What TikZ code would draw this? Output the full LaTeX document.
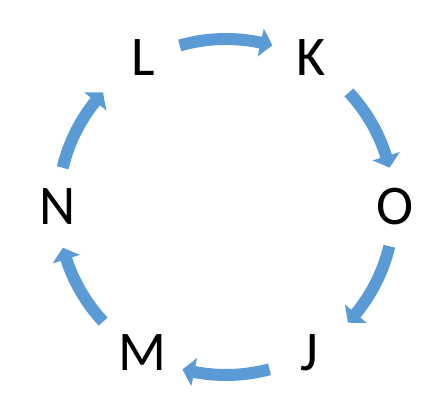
\documentclass[tikz,border=0pt]{standalone}
\usepackage{fontspec}
\setmainfont{Carlito}
\usetikzlibrary{arrows.meta,bending}
\definecolor{arrowblue}{HTML}{5B9BD5}
\begin{document}
\begin{tikzpicture}[x=1pt,y=1pt,
  letter/.style={font=\fontsize{56}{60}\selectfont, inner sep=0pt, anchor=base},
  cyc/.style={draw=arrowblue, line width=12pt, -{Triangle[width=28pt,length=12pt,bend]}}]
\useasboundingbox (0,0) rectangle (429,401);
\coordinate (c) at (226,194);
\node[letter] (L) at (143,325) {L};
\node[letter] (K) at (311.5,325) {K};
\node[letter] (O) at (395.5,176) {O};
\node[letter] (N) at (57.5,176) {N};
\node[letter] (M) at (142,30) {M};
\node[letter] (J) at (309.5,30) {J};
\draw[cyc] ([shift={(106:168)}]c) arc[start angle=106, end angle=74, radius=168];
\draw[cyc] ([shift={(43:168)}]c) arc[start angle=43, end angle=13.5, radius=168];
\draw[cyc] ([shift={(-13.5:168)}]c) arc[start angle=-13.5, end angle=-43.5, radius=168];
\draw[cyc] ([shift={(-75:168)}]c) arc[start angle=-75, end angle=-105, radius=168];
\draw[cyc] ([shift={(223:168)}]c) arc[start angle=223, end angle=194, radius=168];
\draw[cyc] ([shift={(166.5:168)}]c) arc[start angle=166.5, end angle=137, radius=168];
\end{tikzpicture}
\end{document}
